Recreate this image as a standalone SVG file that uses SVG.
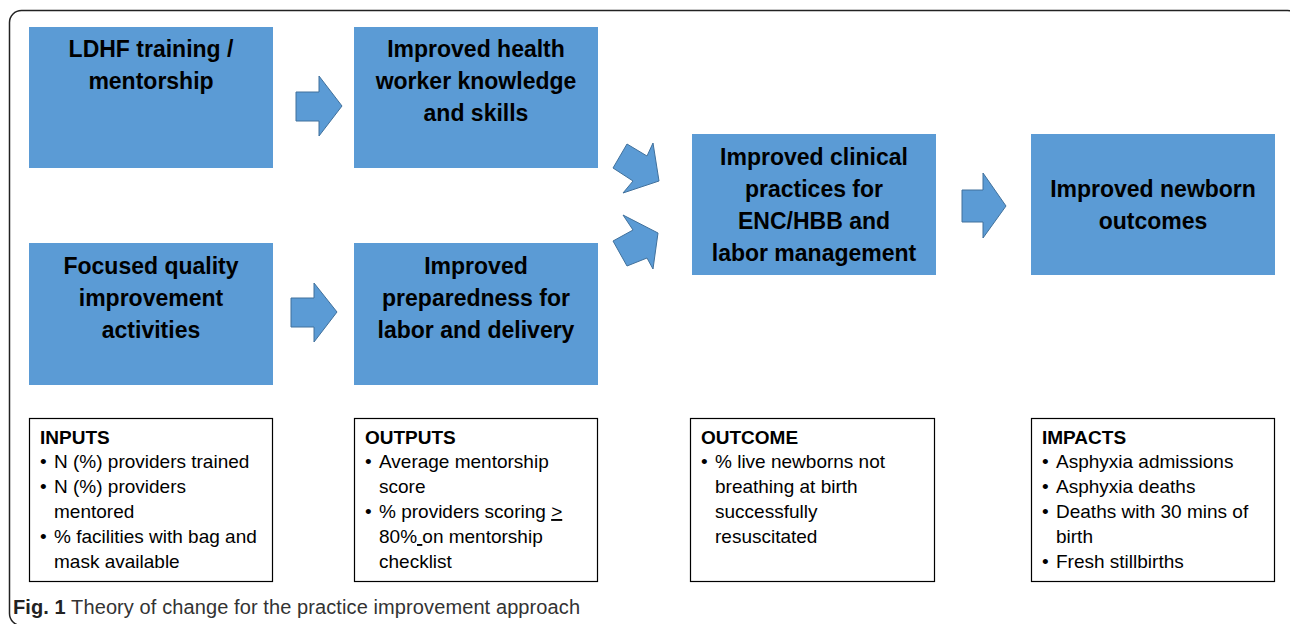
<svg xmlns="http://www.w3.org/2000/svg" width="1290" height="624" viewBox="0 0 1290 624">
  <style>
    .stage { fill: #5B9BD5; }
    .stage-text { font-family: "Liberation Sans", Arial, sans-serif; font-weight: bold; font-size: 23px; fill: #000; text-anchor: middle; }
    .measure { fill: #fff; stroke: #000; stroke-width: 1.2; }
    .measure-text { font-family: "Liberation Sans", Arial, sans-serif; font-size: 19px; fill: #000; }
    .measure-head { font-weight: bold; }
    .arrow { fill: #5B9BD5; stroke: #41719C; stroke-width: 1; stroke-linejoin: miter; }
    .caption { font-family: "Liberation Sans", Arial, sans-serif; font-size: 20px; fill: #333; }
  </style>

  <rect width="1290" height="624" fill="#fff"/>
  <!-- frame -->
  <rect x="9.5" y="10.5" width="1290" height="615" rx="12" ry="12" fill="none" stroke="#222" stroke-width="1.5"/>

  <!-- stages -->
  <g id="ldhf-training">
    <rect class="stage" x="29" y="27" width="244" height="141"/>
    <text class="stage-text" x="151"><tspan x="151" y="57">LDHF training /</tspan><tspan x="151" y="89">mentorship</tspan></text>
  </g>
  <g id="hw-knowledge">
    <rect class="stage" x="354" y="27" width="244" height="141"/>
    <text class="stage-text"><tspan x="476" y="57">Improved health</tspan><tspan x="476" y="89">worker knowledge</tspan><tspan x="476" y="121">and skills</tspan></text>
  </g>
  <g id="focused-qi">
    <rect class="stage" x="29" y="243" width="244" height="142"/>
    <text class="stage-text"><tspan x="151" y="274">Focused quality</tspan><tspan x="151" y="306">improvement</tspan><tspan x="151" y="338">activities</tspan></text>
  </g>
  <g id="preparedness">
    <rect class="stage" x="354" y="243" width="244" height="142"/>
    <text class="stage-text"><tspan x="476" y="274">Improved</tspan><tspan x="476" y="306">preparedness for</tspan><tspan x="476" y="338">labor and delivery</tspan></text>
  </g>
  <g id="clinical-practices">
    <rect class="stage" x="692" y="134" width="244" height="141"/>
    <text class="stage-text"><tspan x="814" y="165">Improved clinical</tspan><tspan x="814" y="197">practices for</tspan><tspan x="814" y="229">ENC/HBB and</tspan><tspan x="814" y="261">labor management</tspan></text>
  </g>
  <g id="newborn-outcomes">
    <rect class="stage" x="1031" y="134" width="244" height="141"/>
    <text class="stage-text"><tspan x="1153" y="197">Improved newborn</tspan><tspan x="1153" y="229">outcomes</tspan></text>
  </g>

  <!-- block arrows between stages -->
  <g id="connectors">
    <polygon class="arrow" points="296,92 319,92 319,76 342,106 319,136 319,121 296,121"/>
    <polygon class="arrow" points="291,298 314,298 314,283 337,312 314,342 314,327 291,327"/>
    <polygon class="arrow" points="659,181 653,143 647,156 627,144 613,168 633,181 623,193"/>
    <polygon class="arrow" points="658,233 623,215 633,230 613,241 627,266 647,258 653,269"/>
    <polygon class="arrow" points="962,190 983,190 983,173 1006,206 983,238 983,222 962,222"/>
  </g>

  <!-- indicator boxes -->
  <g id="inputs">
    <rect class="measure" x="29.5" y="418.5" width="243" height="163"/>
    <text class="measure-text">
      <tspan class="measure-head" x="40" y="444">INPUTS</tspan>
      <tspan x="40" y="468">•</tspan><tspan x="54" y="468">N (%) providers trained</tspan>
      <tspan x="40" y="493">•</tspan><tspan x="54" y="493">N (%) providers</tspan>
      <tspan x="54" y="518">mentored</tspan>
      <tspan x="40" y="543">•</tspan><tspan x="54" y="543">% facilities with bag and</tspan>
      <tspan x="54" y="568">mask available</tspan>
    </text>
  </g>
  <g id="outputs">
    <rect class="measure" x="354.5" y="418.5" width="243" height="163"/>
    <text class="measure-text">
      <tspan class="measure-head" x="365" y="444">OUTPUTS</tspan>
      <tspan x="365" y="468">•</tspan><tspan x="379" y="468">Average mentorship</tspan>
      <tspan x="379" y="493">score</tspan>
      <tspan x="365" y="518">•</tspan><tspan x="379" y="518">% providers scoring </tspan><tspan text-decoration="underline">&gt;</tspan>
      <tspan x="379" y="543">80%</tspan><tspan text-decoration="underline" xml:space="preserve"> </tspan><tspan>on mentorship</tspan>
      <tspan x="379" y="568">checklist</tspan>
    </text>
  </g>
  <g id="outcome">
    <rect class="measure" x="690.5" y="418.5" width="244" height="163"/>
    <text class="measure-text">
      <tspan class="measure-head" x="701" y="444">OUTCOME</tspan>
      <tspan x="701" y="468">•</tspan><tspan x="715" y="468">% live newborns not</tspan>
      <tspan x="715" y="493">breathing at birth</tspan>
      <tspan x="715" y="518">successfully</tspan>
      <tspan x="715" y="543">resuscitated</tspan>
    </text>
  </g>
  <g id="impacts">
    <rect class="measure" x="1031.5" y="418.5" width="243" height="163"/>
    <text class="measure-text">
      <tspan class="measure-head" x="1042" y="444">IMPACTS</tspan>
      <tspan x="1042" y="468">•</tspan><tspan x="1056" y="468">Asphyxia admissions</tspan>
      <tspan x="1042" y="493">•</tspan><tspan x="1056" y="493">Asphyxia deaths</tspan>
      <tspan x="1042" y="518">•</tspan><tspan x="1056" y="518">Deaths with 30 mins of</tspan>
      <tspan x="1056" y="543">birth</tspan>
      <tspan x="1042" y="568">•</tspan><tspan x="1056" y="568">Fresh stillbirths</tspan>
    </text>
  </g>

  <!-- caption -->
  <text class="caption" x="13" y="614" textLength="567" lengthAdjust="spacing"><tspan font-weight="bold" fill="#222">Fig. 1</tspan> Theory of change for the practice improvement approach</text>
</svg>
